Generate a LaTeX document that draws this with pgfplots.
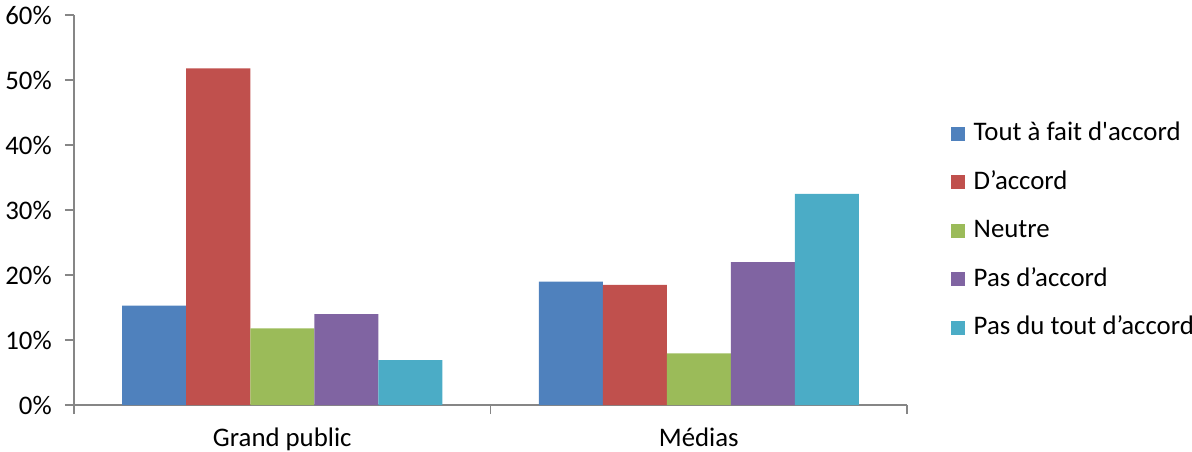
\documentclass[border=0pt]{standalone}
\usepackage{fontspec}
\setmainfont{Carlito}
\usepackage{pgfplots}
\pgfplotsset{compat=1.18}
\definecolor{c1}{HTML}{4F81BD}
\definecolor{c2}{HTML}{C0504D}
\definecolor{c3}{HTML}{9BBB59}
\definecolor{c4}{HTML}{8064A2}
\definecolor{c5}{HTML}{4BACC6}
\definecolor{axgray}{HTML}{868686}
\begin{document}
\fontsize{13.4pt}{15pt}\selectfont
\begin{tikzpicture}
\useasboundingbox (-37pt,-23pt) rectangle (559pt,202.5pt);
\begin{axis}[
  width=416.5pt, height=195pt, scale only axis,
  ymin=0, ymax=60, xmin=-0.5, xmax=1.5,
  axis lines*=left,
  axis line style={axgray, line width=0.9pt},
  ybar=0pt, bar width=32pt,
  ytick={0,10,...,60},
  yticklabel={\pgfmathprintnumber{\tick}\%},
  yticklabel style={font=\fontsize{13.4pt}{15pt}\selectfont, xshift=-2pt},
  ytick style={axgray, line width=0.9pt},
  tick align=outside, major tick length=4.5pt,
  xtick={0,1},
  xticklabels={Grand public, Médias},
  xtick style={draw=none},
  xticklabel style={font=\fontsize{13.4pt}{15pt}\selectfont, yshift=-2.5pt},
  extra x ticks={-0.5,0.5,1.5},
  extra x tick labels={},
  extra x tick style={xtick style={draw=axgray, line width=0.9pt}},
  /pgf/number format/assume math mode=true,
  legend cell align=left,
  legend style={at={(axis description cs:1.052,0.447)}, anchor=west, draw=none, fill=none,
    font=\fontsize{13.4pt}{15pt}\selectfont, row sep=9pt, inner sep=0pt,
    nodes={inner xsep=4.5pt}},
  legend image code/.code={\fill[#1] (0pt,-3.5pt) rectangle (7pt,3.5pt);},
  clip=false,
]
\addplot[fill=c1, draw=none] coordinates {(0,15.3) (1,19.0)};
\addplot[fill=c2, draw=none] coordinates {(0,51.8) (1,18.5)};
\addplot[fill=c3, draw=none] coordinates {(0,11.8) (1,7.95)};
\addplot[fill=c4, draw=none] coordinates {(0,14.0) (1,22.0)};
\addplot[fill=c5, draw=none] coordinates {(0,6.9) (1,32.5)};
\legend{Tout à fait d\textquotesingle accord, D’accord, Neutre, Pas d’accord, Pas du tout d’accord}
\end{axis}
\end{tikzpicture}
\end{document}
